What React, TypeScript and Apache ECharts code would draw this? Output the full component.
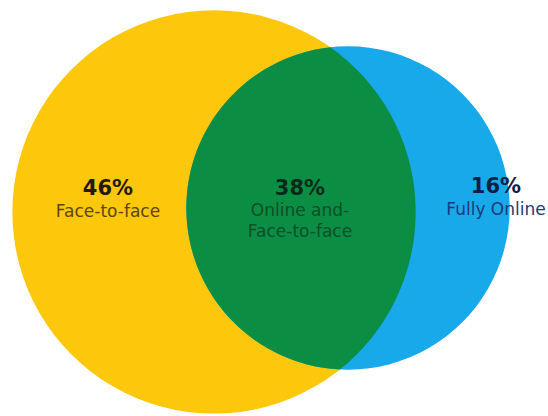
import React, { useEffect, useRef } from "react";
import * as echarts from "echarts";

// ---- data ----
const setNames = ["Face-to-face", "Online and-\nFace-to-face", "Fully Online"];
const shares = [46, 38, 16]; // percent: face-to-face only, both, fully online

// circles: total share of each mode (exclusive + overlap)
const circleTotals = [shares[0] + shares[1], shares[1] + shares[2]];

// ---- layout (pixels) ----
const W = 548;
const H = 416;
const circleCenters = [
  [214, 212],
  [348, 208],
];
const radiusPerSqrtUnit = 22;
// [centerX, percentMiddleY, subtitleTopY]
const labelAnchors = [
  [108, 188, 200],
  [300, 188, 199],
  [496, 186, 198],
];

// ---- styles ----
const circleColors = ["#FDC70B", "#17A9EA"];
const overlapColor = "#0B8D44";
const percentColors = ["#24190d", "#0c2a18", "#0f1e45"];
const subtitleColors = ["#5b4512", "#0d4f27", "#1f3a78"];

function lensPoints(c1: number[], r1: number, c2: number[], r2: number): number[][] {
  const dx = c2[0] - c1[0];
  const dy = c2[1] - c1[1];
  const d = Math.sqrt(dx * dx + dy * dy);
  const a = (d * d + r1 * r1 - r2 * r2) / (2 * d);
  const h = Math.sqrt(Math.max(r1 * r1 - a * a, 0));
  const ux = dx / d;
  const uy = dy / d;
  const px = c1[0] + a * ux;
  const py = c1[1] + a * uy;
  const tx = px + h * uy;
  const ty = py - h * ux;
  const bx = px - h * uy;
  const by = py + h * ux;
  const norm = (v: number) => {
    while (v < 0) v += Math.PI * 2;
    while (v >= Math.PI * 2) v -= Math.PI * 2;
    return v;
  };
  const arc = (c: number[], r: number, sx: number, sy: number, ex: number, ey: number, toward: number[], skipEnds: boolean) => {
    const out: number[][] = [];
    const s = Math.atan2(sy - c[1], sx - c[0]);
    const e = Math.atan2(ey - c[1], ex - c[0]);
    const dir = Math.atan2(toward[1] - c[1], toward[0] - c[0]);
    let span = norm(e - s);
    let sgn = 1;
    if (norm(dir - s) > span) {
      span = Math.PI * 2 - span;
      sgn = -1;
    }
    const n = 90;
    for (let i = skipEnds ? 1 : 0; i <= (skipEnds ? n - 1 : n); i++) {
      const t = s + (sgn * span * i) / n;
      out.push([c[0] + r * Math.cos(t), c[1] + r * Math.sin(t)]);
    }
    return out;
  };
  return [
    ...arc(c2, r2, tx, ty, bx, by, c1, false),
    ...arc(c1, r1, bx, by, tx, ty, c2, true),
  ];
}

export default function App() {
  const ref = useRef<HTMLDivElement>(null);

  useEffect(() => {
    document.body.style.margin = "0";
    if (!ref.current) return;
    const chart = echarts.init(ref.current, null, { renderer: "svg" });

    const circleData = circleTotals.map((v, i) => [circleCenters[i][0], circleCenters[i][1], v, i]);
    const labelData = shares.map((v, i) => [labelAnchors[i][0], labelAnchors[i][1], v, i]);

    const radiusPx = (api: any, total: number) =>
      api.size([radiusPerSqrtUnit * Math.sqrt(total), 0])[0];

    chart.setOption({
      animation: false,
      backgroundColor: "#ffffff",
      grid: { left: 0, right: 0, top: 0, bottom: 0 },
      xAxis: { type: "value", min: 0, max: W, show: false },
      yAxis: { type: "value", min: 0, max: H, inverse: true, show: false },
      series: [
        {
          type: "custom",
          name: "circles",
          coordinateSystem: "cartesian2d",
          data: circleData,
          renderItem: (params: any, api: any) => {
            const p = api.coord([api.value(0), api.value(1)]);
            const r = radiusPx(api, api.value(2));
            const idx = api.value(3);
            return {
              type: "circle",
              shape: { cx: p[0], cy: p[1], r },
              style: { fill: circleColors[idx] },
            };
          },
        },
        {
          type: "custom",
          name: "overlap",
          coordinateSystem: "cartesian2d",
          data: [[circleCenters[0][0], circleCenters[0][1], shares[1]]],
          renderItem: (params: any, api: any) => {
            const c1 = api.coord(circleCenters[0]);
            const c2 = api.coord(circleCenters[1]);
            const r1 = radiusPx(api, circleTotals[0]);
            const r2 = radiusPx(api, circleTotals[1]);
            return {
              type: "polygon",
              shape: { points: lensPoints(c1, r1, c2, r2) },
              style: { fill: overlapColor },
            };
          },
        },
        {
          type: "custom",
          name: "labels",
          coordinateSystem: "cartesian2d",
          data: labelData,
          renderItem: (params: any, api: any) => {
            const idx = api.value(3);
            const p = api.coord([api.value(0), api.value(1)]);
            const sub = api.coord([api.value(0), labelAnchors[idx][2]]);
            return {
              type: "group",
              children: [
                {
                  type: "text",
                  style: {
                    x: p[0],
                    y: p[1],
                    text: `${api.value(2)}%`,
                    fill: percentColors[idx],
                    fontFamily: "DejaVu Sans",
                    fontWeight: "bold",
                    fontSize: 21,
                    align: "center",
                    verticalAlign: "middle",
                  },
                },
                {
                  type: "text",
                  style: {
                    x: sub[0],
                    y: sub[1],
                    text: setNames[idx],
                    fill: subtitleColors[idx],
                    fontFamily: "DejaVu Sans",
                    fontSize: 17,
                    lineHeight: 21,
                    align: "center",
                    verticalAlign: "top",
                  },
                },
              ],
            };
          },
        },
      ],
    });

    return () => chart.dispose();
  }, []);

  return <div ref={ref} style={{ width: W, height: H }} />;
}
